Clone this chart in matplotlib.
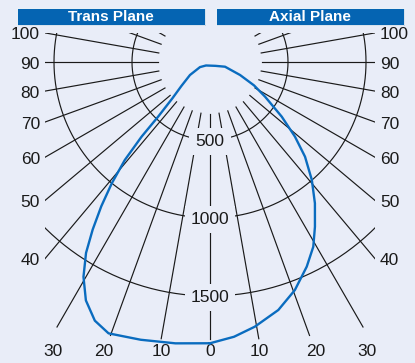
import numpy as np
import matplotlib.pyplot as plt
from matplotlib.patches import Rectangle

trans_angle = [0, 7, 14, 20.5, 24, 27.5, 30.5, 33, 35, 37, 39, 41, 42.5, 43.5, 46, 50, 57, 63, 49]
trans_cd = [1803, 1817, 1835, 1857, 1815, 1723, 1598, 1459, 1311, 1158, 1000, 832, 649, 483, 335, 240, 153, 72, 34]

axial_angle = [0, 5, 9.6, 15.4, 20.4, 25.3, 29.2, 32.5, 36.6, 40.8, 45.1, 48.7, 52.7, 57.8, 62, 66.6, 72.6, 55]
axial_cd = [1803, 1768, 1721, 1649, 1560, 1451, 1357, 1252, 1128, 999, 860, 725, 578, 417, 320, 210, 101, 43]

ring_values = [500, 1000, 1500]
side_ticks = [40, 50, 60, 70, 80, 90, 100]
bottom_ticks = [30, 20, 10, 0, 10, 20, 30]
plane_titles = ["Trans Plane", "Axial Plane"]

bg = "#e9edf8"
blue = "#0a6cbf"
bar_blue = "#0564b2"
ink = "#1a1a1a"

s = 0.156          # px per candela
CX, CY = 210, 62   # pole in pixels


def px(x, y):
    return (x - CX) / s, (CY - y) / s


plt.rcParams['font.family'] = ['Liberation Sans Narrow', 'Liberation Sans', 'DejaVu Sans']

fig = plt.figure(figsize=(4.15, 3.63), dpi=100)
fig.patch.set_facecolor(bg)
ax = fig.add_axes([0, 0, 1, 1])
ax.set_facecolor(bg)
ax.set_xlim(px(0, 0)[0], px(415, 0)[0])
ax.set_ylim(px(0, 363)[1], px(0, 0)[1])
ax.axis('off')

x0, y0 = px(45, 363)
x1, y1 = px(375, 33)
clip = Rectangle((x0, y0), x1 - x0, y1 - y0, transform=ax.transData)

# radial lines every 10 degrees
r_in = 52 / s
r_bottom = {0: 277, 10: 281, 20: 291, 30: 306}
for a in range(0, 140, 10):
    r_out = r_bottom.get(a, 420) / s
    for sign in (-1, 1):
        t = np.radians(a)
        xs = [sign * r_in * np.sin(t), sign * r_out * np.sin(t)]
        ys = [-r_in * np.cos(t), -r_out * np.cos(t)]
        ln, = ax.plot(xs, ys, color=ink, lw=0.85)
        ln.set_clip_path(clip)
        if a == 0:
            break

# candela rings
t = np.radians(np.linspace(-180, 180, 721))
for v in ring_values:
    ln, = ax.plot(v * np.sin(t), -v * np.cos(t), color=ink, lw=0.85)
    ln.set_clip_path(clip)
    ax.text(0, -v - 1.5 / s, str(v), ha='center', va='center', fontsize=12.5,
            color=ink,
            bbox=dict(boxstyle='square,pad=0.35', fc=bg, ec='none'))

# intensity curve: trans side up to the pole, then axial side back down
ta = np.radians(trans_angle)
aa = np.radians(axial_angle)
tcd = np.array(trans_cd)
acd = np.array(axial_cd)
cx = np.concatenate([-tcd * np.sin(ta), (acd * np.sin(aa))[::-1]])
cy = np.concatenate([-tcd * np.cos(ta), (-acd * np.cos(aa))[::-1]])
ax.plot(cx, cy, color=blue, lw=1.7, solid_joinstyle='round', zorder=5)

# side labels
for a in side_ticks:
    r = 165 / abs(np.sin(np.radians(a)))
    yy = 62 + r * np.cos(np.radians(a)) + 2
    ax.text(*px(40, yy), str(a), ha='right', va='center', fontsize=12.5, color=ink)
    ax.text(*px(380, yy), str(a), ha='left', va='center', fontsize=12.5, color=ink)

bottom_x = [53, 104, 161, 210, 259, 316, 367]
for xx, lab in zip(bottom_x, bottom_ticks):
    ax.text(*px(xx, 351), str(lab), ha='center', va='center', fontsize=12.5, color=ink)

# header bars
for (left, right), title in zip([(17, 205), (216, 404)], plane_titles):
    bx, by = px(left, 25)
    bx2, by2 = px(right, 8)
    ax.add_patch(Rectangle((bx + 1 / s, by - 1 / s), bx2 - bx, by2 - by, fc="#0b3f78", ec='none'))
    ax.add_patch(Rectangle((bx, by), bx2 - bx, by2 - by, fc=bar_blue, ec='white', lw=0.6))
    ax.text((bx + bx2) / 2, (by + by2) / 2 - 0.3 / s, title, ha='center', va='center',
            color='white', fontsize=11, fontweight='bold', family='Liberation Sans')

fig.savefig("out.png", dpi=100, facecolor=bg)
